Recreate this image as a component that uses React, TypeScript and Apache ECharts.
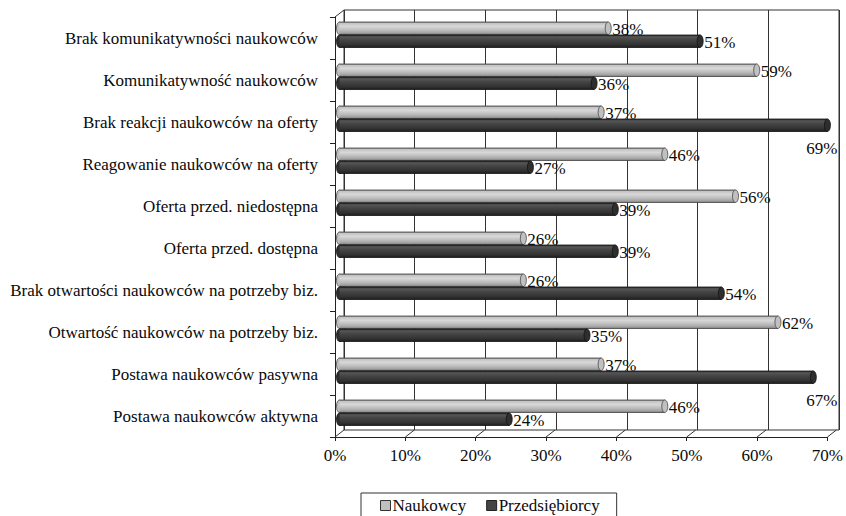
import React, { useEffect, useRef } from 'react';
import * as echarts from 'echarts';

const categories = [
  'Brak komunikatywności naukowców',
  'Komunikatywność naukowców',
  'Brak reakcji naukowców na oferty',
  'Reagowanie naukowców na oferty',
  'Oferta przed. niedostępna',
  'Oferta przed. dostępna',
  'Brak otwartości naukowców na potrzeby biz.',
  'Otwartość naukowców na potrzeby biz.',
  'Postawa naukowców pasywna',
  'Postawa naukowców aktywna',
];
const naukowcy = [38, 59, 37, 46, 56, 26, 26, 62, 37, 46];
const przedsiebiorcy = [51, 36, 69, 27, 39, 39, 54, 35, 67, 24];
const xTicks = [0, 10, 20, 30, 40, 50, 60, 70];
const seriesNames = ['Naukowcy', 'Przedsiębiorcy'];

const FONT = '"Liberation Serif", "Times New Roman", serif';
const TEXT = '#0a0a0a';
const DX = 9;
const DY = -7;

const lightPal = {
  stops: [
    { offset: 0, color: '#808080' },
    { offset: 0.12, color: '#c4c4c4' },
    { offset: 0.35, color: '#d8d8d8' },
    { offset: 0.65, color: '#bcbcbc' },
    { offset: 0.88, color: '#a0a0a0' },
    { offset: 1, color: '#747474' },
  ],
  cap: '#c0c0c0',
  stroke: '#444',
  legend: '#c0c0c0',
};
const darkPal = {
  stops: [
    { offset: 0, color: '#2a2a2a' },
    { offset: 0.15, color: '#565656' },
    { offset: 0.4, color: '#444444' },
    { offset: 0.75, color: '#333333' },
    { offset: 1, color: '#1e1e1e' },
  ],
  cap: '#2e2e2e',
  stroke: '#111',
  legend: '#444444',
};

function makeBarRender(upper: boolean, pal: any) {
  return (params: any, api: any) => {
    const v = api.value(0);
    const ci = api.value(1);
    const end = api.coord([v, ci]);
    const start = api.coord([0, ci]);
    const h = 12.5;
    const y0 = upper ? end[1] - h : end[1] + 0.5;
    const cy = y0 + h / 2;
    const cs = params.coordSys;
    const labelW = 33;
    const fitsRight = end[0] + 4 + labelW <= api.getWidth();
    const tx = fitsRight ? end[0] + 4 : cs.x + cs.width + 3;
    const ty = fitsRight ? cy + 1 : y0 + h + 17;
    const grad = new echarts.graphic.LinearGradient(0, 0, 0, 1, pal.stops);
    return {
      type: 'group',
      children: [
        {
          type: 'ellipse',
          shape: { cx: start[0], cy, rx: 3, ry: h / 2 },
          style: { fill: pal.cap, stroke: pal.stroke, lineWidth: 0.8 },
        },
        {
          type: 'rect',
          shape: { x: start[0], y: y0, width: end[0] - start[0], height: h },
          style: { fill: grad },
        },
        {
          type: 'line',
          shape: { x1: start[0], y1: y0, x2: end[0], y2: y0 },
          style: { stroke: pal.stroke, lineWidth: 0.8 },
        },
        {
          type: 'line',
          shape: { x1: start[0], y1: y0 + h, x2: end[0], y2: y0 + h },
          style: { stroke: pal.stroke, lineWidth: 0.8 },
        },
        {
          type: 'ellipse',
          shape: { cx: end[0], cy, rx: 3, ry: h / 2 },
          style: { fill: pal.cap, stroke: pal.stroke, lineWidth: 0.8 },
        },
        {
          type: 'text',
          style: {
            text: v + '%',
            x: tx,
            y: ty,
            textAlign: fitsRight ? 'left' : 'right',
            textVerticalAlign: 'middle',
            font: `17px ${FONT}`,
            fill: TEXT,
          },
        },
      ],
    };
  };
}

function floorRender(params: any, api: any) {
  const v = api.value(0);
  const cs = params.coordSys;
  const p = api.coord([v, 0]);
  const yb = cs.y + cs.height;
  const children: any[] = [
    {
      type: 'line',
      shape: { x1: p[0], y1: yb, x2: p[0] + DX, y2: yb + DY },
      style: { stroke: '#333', lineWidth: 1 },
    },
  ];
  if (v === 0) {
    children.push({
      type: 'line',
      shape: { x1: cs.x, y1: cs.y, x2: cs.x + DX, y2: cs.y + DY },
      style: { stroke: '#333', lineWidth: 1 },
    });
  }
  return { type: 'group', children };
}

export default function App() {
  const ref = useRef<HTMLDivElement>(null);
  useEffect(() => {
    document.body.style.margin = '0';
    const chart = echarts.init(ref.current!, null, { renderer: 'svg' });
    const front = { left: 335, right: 16, top: 17, bottom: 79 };
    const back = {
      left: front.left + DX,
      right: front.right - DX,
      top: front.top + DY,
      bottom: front.bottom - DY,
    };
    const mid = {
      left: front.left + DX / 2,
      right: front.right - DX / 2,
      top: front.top + DY / 2,
      bottom: front.bottom - DY / 2,
    };
    const option: any = {
      animation: false,
      backgroundColor: '#ffffff',
      textStyle: { fontFamily: FONT },
      grid: [
        { ...front },
        { ...back, show: true, borderColor: '#333', borderWidth: 1, backgroundColor: 'transparent' },
        { ...mid },
      ],
      xAxis: [
        {
          gridIndex: 0,
          type: 'value',
          min: 0,
          max: 70,
          interval: 10,
          axisLine: { show: true, lineStyle: { color: '#222', width: 1 } },
          axisTick: { show: true, length: 4, lineStyle: { color: '#222' } },
          splitLine: { show: false },
          axisLabel: {
            formatter: '{value}%',
            fontFamily: FONT,
            fontSize: 17,
            color: TEXT,
            margin: 10,
          },
        },
        {
          gridIndex: 1,
          type: 'value',
          min: 0,
          max: 70,
          interval: 10,
          axisLine: { show: false },
          axisTick: { show: false },
          axisLabel: { show: false },
          splitLine: { show: true, lineStyle: { color: '#333', width: 1 } },
        },
        {
          gridIndex: 2,
          type: 'value',
          min: 0,
          max: 70,
          show: false,
        },
      ],
      yAxis: [
        {
          gridIndex: 0,
          type: 'category',
          inverse: true,
          data: categories,
          axisLine: { show: true, lineStyle: { color: '#222', width: 1 } },
          axisTick: { show: true, length: 5, lineStyle: { color: '#222' } },
          axisLabel: {
            fontFamily: FONT,
            fontSize: 17,
            color: TEXT,
            margin: 17,
          },
        },
        { gridIndex: 1, type: 'category', inverse: true, data: categories, show: false },
        { gridIndex: 2, type: 'category', inverse: true, data: categories, show: false },
      ],
      legend: {
        left: 361,
        top: 493,
        itemWidth: 10,
        itemHeight: 10,
        itemGap: 20,
        padding: [4, 17, 12, 19],
        borderColor: '#333',
        borderWidth: 1,
        textStyle: { fontFamily: FONT, fontSize: 17, color: TEXT, padding: [0, 0, 0, -3] },
        data: [
          { name: seriesNames[0], icon: 'rect', itemStyle: { color: lightPal.legend, borderColor: '#333', borderWidth: 1 } },
          { name: seriesNames[1], icon: 'rect', itemStyle: { color: darkPal.legend, borderColor: '#222', borderWidth: 1 } },
        ],
      },
      series: [
        {
          type: 'custom',
          name: 'floor',
          xAxisIndex: 0,
          yAxisIndex: 0,
          clip: false,
          silent: true,
          renderItem: floorRender,
          encode: { x: 0, y: 1 },
          data: xTicks.map((t) => [t, 0]),
          z: 1,
        },
        {
          type: 'custom',
          name: seriesNames[0],
          xAxisIndex: 2,
          yAxisIndex: 2,
          clip: false,
          itemStyle: { color: lightPal.legend },
          renderItem: makeBarRender(true, lightPal),
          encode: { x: 0, y: 1 },
          data: naukowcy.map((v, i) => [v, i]),
          z: 3,
        },
        {
          type: 'custom',
          name: seriesNames[1],
          xAxisIndex: 2,
          yAxisIndex: 2,
          clip: false,
          itemStyle: { color: darkPal.legend },
          renderItem: makeBarRender(false, darkPal),
          encode: { x: 0, y: 1 },
          data: przedsiebiorcy.map((v, i) => [v, i]),
          z: 3,
        },
      ],
    };
    chart.setOption(option);
    return () => chart.dispose();
  }, []);
  return (
    <div
      ref={ref}
      style={{ position: 'fixed', left: 0, top: 0, width: 846, height: 516 }}
    />
  );
}
